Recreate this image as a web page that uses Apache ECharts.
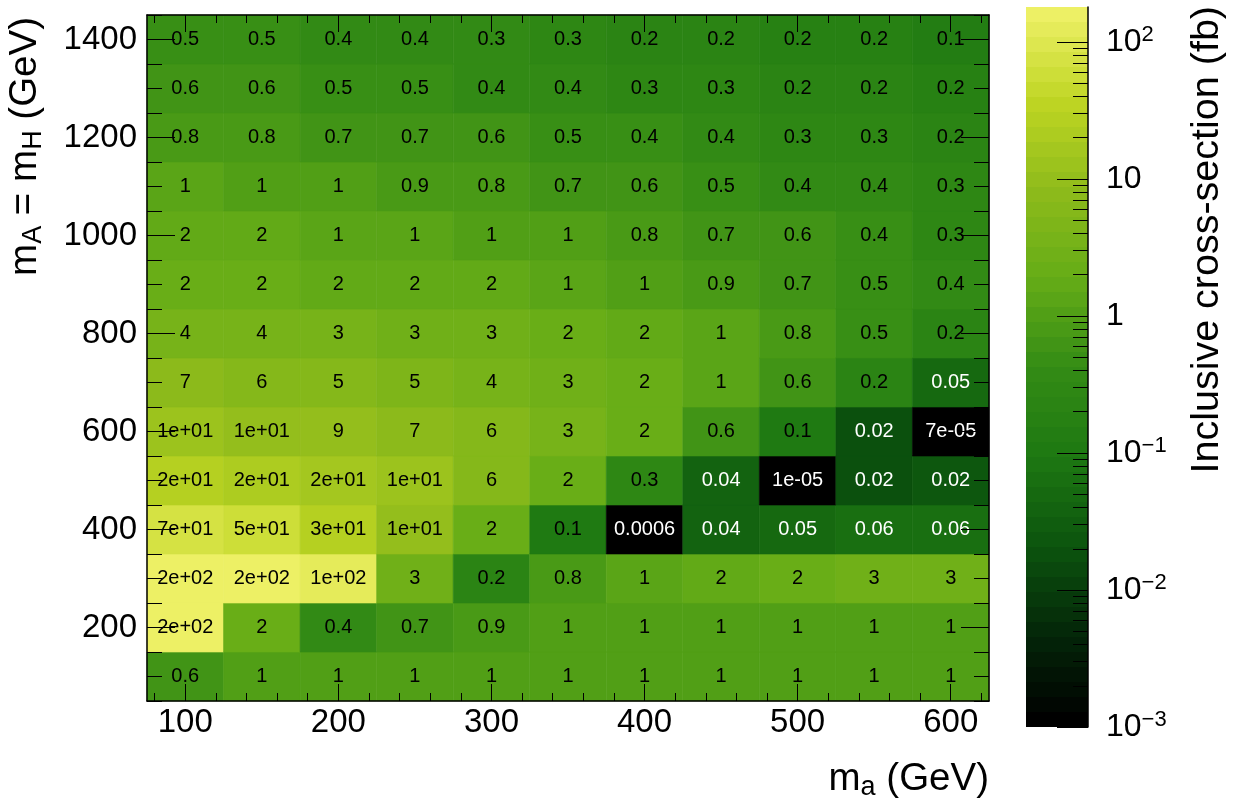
<!DOCTYPE html>
<html>
<head>
<meta charset="utf-8">
<script src="https://cdn.jsdelivr.net/npm/echarts@6/dist/echarts.min.js"></script>
<style>
  html, body { margin: 0; padding: 0; background: #fff; }
  #main { width: 1240px; height: 803px; }
</style>
</head>
<body>
<div id="main"></div>
<script>
// m_a (x) and m_A = m_H (y) grid points, GeV
var maValues = [100, 150, 200, 250, 300, 350, 400, 450, 500, 550, 600];
var mAValues = [100, 200, 300, 400, 500, 600, 700, 800, 900, 1000, 1100, 1200, 1300, 1400];

// inclusive cross-section (fb), one array per m_A row, ordered by m_a
var xs_mA100  = [0.6, 1.1, 1.1, 1.1, 1.1, 1.1, 1.1, 1.1, 1.1, 1.1, 1.1];
var xs_mA200  = [180, 2.1, 0.4, 0.7, 0.9, 1.0, 1.05, 1.1, 1.1, 1.1, 1.1];
var xs_mA300  = [176, 168, 115, 3.1, 0.2, 0.8, 1.3, 1.7, 2.2, 2.6, 2.8];
var xs_mA400  = [72, 52, 29, 11, 2.1, 0.12, 0.0006, 0.04, 0.05, 0.06, 0.063];
var xs_mA500  = [24, 21, 17, 12, 6.2, 2.1, 0.3, 0.04, 0.00001, 0.017, 0.022];
var xs_mA600  = [13, 11, 9.2, 7.3, 5.8, 3.3, 2.0, 0.62, 0.11, 0.018, 0.00007];
var xs_mA700  = [7.2, 6.3, 5.4, 4.7, 3.9, 3.0, 2.0, 1.2, 0.6, 0.2, 0.05];
var xs_mA800  = [3.9, 3.6, 3.2, 2.9, 2.6, 2.1, 1.6, 1.2, 0.8, 0.5, 0.22];
var xs_mA900  = [2.3, 2.1, 1.9, 1.8, 1.6, 1.4, 1.1, 0.9, 0.7, 0.52, 0.38];
var xs_mA1000 = [1.65, 1.55, 1.35, 1.2, 1.05, 0.96, 0.82, 0.7, 0.58, 0.43, 0.32];
var xs_mA1100 = [1.2, 1.1, 1.0, 0.88, 0.78, 0.68, 0.58, 0.5, 0.42, 0.36, 0.31];
var xs_mA1200 = [0.82, 0.76, 0.69, 0.65, 0.56, 0.49, 0.43, 0.37, 0.32, 0.27, 0.23];
var xs_mA1300 = [0.63, 0.58, 0.52, 0.46, 0.41, 0.36, 0.31, 0.27, 0.24, 0.21, 0.18];
var xs_mA1400 = [0.52, 0.47, 0.42, 0.37, 0.33, 0.28, 0.24, 0.21, 0.19, 0.17, 0.14];
var xsRows = [xs_mA100, xs_mA200, xs_mA300, xs_mA400, xs_mA500, xs_mA600, xs_mA700,
              xs_mA800, xs_mA900, xs_mA1000, xs_mA1100, xs_mA1200, xs_mA1300, xs_mA1400];

// axis ticks
var xTickLabels = [100, 200, 300, 400, 500, 600];
var yTickLabels = [200, 400, 600, 800, 1000, 1200, 1400];
var zTickLabels = [0.001, 0.01, 0.1, 1, 10, 100];
var zMin = 0.001, zMax = 180;

// ROOT kAvocado palette stops
var avocado = ['#000000', '#042809', '#0c560e', '#1e7912', '#348c15',
               '#65ac17', '#8ebb1b', '#bed523', '#edf065'];

var xMinor = [], yMinor = [], zMinor = [];
for (var t = 80; t <= 620; t += 20) xMinor.push(t);
for (var t = 50; t <= 1450; t += 50) yMinor.push(t);
[0.001, 0.01, 0.1, 1, 10].forEach(function (d) {
  for (var k = 2; k <= 9; k++) if (k * d < zMax) zMinor.push(k * d);
});

// C style "%.1g"
function fmtG1(v) {
  var e = Math.floor(Math.log10(v));
  var m = Math.round(v / Math.pow(10, e));
  if (m === 10) { m = 1; e += 1; }
  if (e < -4 || e >= 1) {
    var ae = Math.abs(e);
    return m + 'e' + (e < 0 ? '-' : '+') + (ae < 10 ? '0' : '') + ae;
  }
  return (m * Math.pow(10, e)).toFixed(Math.max(0, -e));
}

var cells = [];
mAValues.forEach(function (y, i) {
  maValues.forEach(function (x, j) {
    var v = xsRows[i][j];
    cells.push([x, y, v, Math.max(Math.log10(v), Math.log10(zMin))]);
  });
});

var FONT = '"Liberation Sans", Arial, Helvetica, sans-serif';
var black = '#000';

function frameAxis(kind, pos, ticks, len, labels, line) {
  var a = {
    type: 'value', gridIndex: 0, position: pos, z: 6,
    min: kind === 'x' ? 75 : 50, max: kind === 'x' ? 625 : 1450,
    splitLine: { show: false },
    axisLine: { show: !!line, onZero: false, lineStyle: { color: black, width: 1.5 } },
    axisTick: { show: true, inside: true, length: len, customValues: ticks,
                lineStyle: { color: black, width: 1 } },
    axisLabel: { show: false }
  };
  if (labels) {
    a.axisLabel = { show: true, customValues: labels, color: black, fontSize: 33,
                    fontFamily: FONT, margin: kind === 'x' ? 5 : 10,
                    formatter: function (v) { return String(v); } };
  }
  return a;
}

var chart = echarts.init(document.getElementById('main'));

var option = {
  animation: false,
  grid: [
    { left: 147, top: 15, width: 842, height: 686 },
    { left: 1026, top: 7, width: 62, height: 720 }
  ],
  xAxis: [
    frameAxis('x', 'bottom', xTickLabels, 17, xTickLabels, true),
    frameAxis('x', 'bottom', xMinor, 8),
    frameAxis('x', 'top', xTickLabels, 17, null, true),
    frameAxis('x', 'top', xMinor, 8),
    { type: 'value', gridIndex: 1, show: false, min: 0, max: 1 }
  ],
  yAxis: [
    frameAxis('y', 'left', yTickLabels, 28, yTickLabels, true),
    frameAxis('y', 'left', yMinor, 15),
    frameAxis('y', 'right', yTickLabels, 28, null, true),
    frameAxis('y', 'right', yMinor, 15),
    {
      type: 'log', gridIndex: 1, position: 'right', min: zMin, max: zMax, z: 6,
      splitLine: { show: false },
      axisLine: { show: true, onZero: false, lineStyle: { color: black, width: 1.5 } },
      axisTick: { inside: true, length: 31, customValues: zTickLabels,
                  lineStyle: { color: black, width: 1 } },
      axisLabel: {
        customValues: zTickLabels, margin: 18, color: black,
        fontSize: 32, lineHeight: 36, fontFamily: FONT,
        formatter: function (v) {
          var e = Math.round(Math.log10(v));
          if (e === 0) return '1';
          if (e === 1) return '10';
          return '10{sup|' + (e < 0 ? '\u2212' + (-e) : e) + '}';
        },
        rich: { sup: { fontSize: 22, lineHeight: 13, verticalAlign: 'top',
                       fontFamily: FONT, color: black } }
      }
    },
    {
      type: 'log', gridIndex: 1, position: 'right', min: zMin, max: zMax, z: 6,
      splitLine: { show: false }, axisLine: { show: false, onZero: false },
      axisTick: { inside: true, length: 15, customValues: zMinor,
                  lineStyle: { color: black, width: 1 } },
      axisLabel: { show: false }
    }
  ],
  visualMap: {
    type: 'piecewise',
    seriesIndex: 0,
    dimension: 3,
    min: Math.log10(zMin),
    max: Math.log10(zMax),
    splitNumber: 48,
    inRange: { color: avocado },
    itemSymbol: 'rect',
    itemWidth: 62,
    itemHeight: 15,
    itemGap: 0,
    showLabel: false,
    selectedMode: false,
    hoverLink: false,
    orient: 'vertical',
    left: 1026,
    top: 7,
    padding: 0,
    z: 4
  },
  graphic: [
    {
      type: 'text', x: 989, y: 779,
      style: {
        text: 'm{sub|a} (GeV)', fill: black, fontSize: 38.5, lineHeight: 44, fontFamily: FONT,
        align: 'right', verticalAlign: 'middle',
        rich: { sub: { fontSize: 27, lineHeight: 19, verticalAlign: 'bottom', fontFamily: FONT } }
      }
    },
    {
      type: 'text', x: 25, y: 17, rotation: Math.PI / 2,
      style: {
        text: 'm{sub|A} = m{sub|H} (GeV)', fill: black, fontSize: 38.5, lineHeight: 44, fontFamily: FONT,
        align: 'right', verticalAlign: 'middle',
        rich: { sub: { fontSize: 27, lineHeight: 19, verticalAlign: 'bottom', fontFamily: FONT } }
      }
    },
    {
      type: 'text', x: 1207, y: 6, rotation: Math.PI / 2,
      style: {
        text: 'Inclusive cross-section (fb)', fill: black, fontSize: 39.5, fontFamily: FONT,
        align: 'right', verticalAlign: 'middle'
      }
    }
  ],
  series: [{
    type: 'custom',
    coordinateSystem: 'cartesian2d',
    xAxisIndex: 0,
    yAxisIndex: 0,
    z: 2,
    dimensions: ['ma', 'mA', 'xsec', 'logxsec'],
    encode: { x: 0, y: 1 },
    data: cells,
    renderItem: function (params, api) {
      var x = api.value(0), y = api.value(1), v = api.value(2);
      var p0 = api.coord([x - 25, y + 50]);
      var p1 = api.coord([x + 25, y - 50]);
      var c = api.coord([x, y]);
      var color = api.visual('color');
      return {
        type: 'group',
        children: [
          { type: 'rect',
            shape: { x: p0[0], y: p0[1], width: p1[0] - p0[0], height: p1[1] - p0[1] },
            style: { fill: color, stroke: color, lineWidth: 0.6 } },
          { type: 'text', x: c[0], y: c[1],
            style: { text: fmtG1(v), fill: v < 0.1 ? '#fff' : '#000',
                     fontSize: 20, fontFamily: FONT, align: 'center', verticalAlign: 'middle' } }
        ]
      };
    }
  }]
};

chart.setOption(option);
</script>
</body>
</html>
